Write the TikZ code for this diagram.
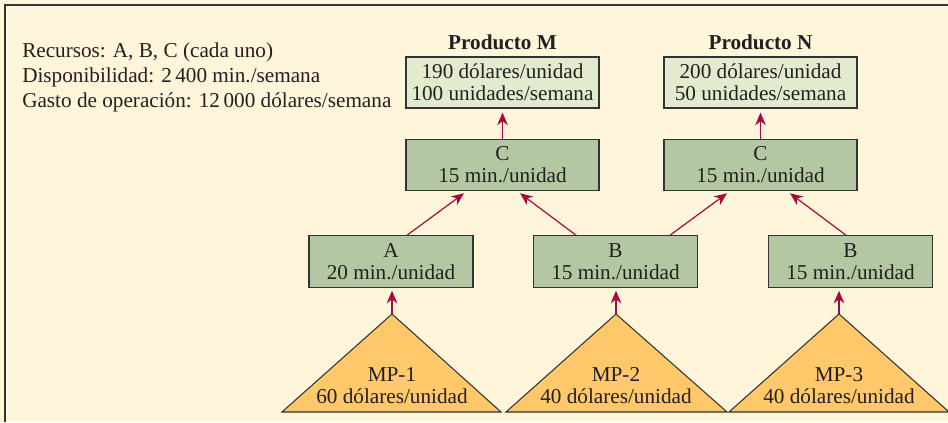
\documentclass[tikz,border=0pt]{standalone}
\usepackage{fontspec}
\setmainfont{Liberation Serif}
\usetikzlibrary{arrows.meta,calc}
\definecolor{bgc}{HTML}{FFF5DA}
\definecolor{prodc}{HTML}{E3EBCF}
\definecolor{procc}{HTML}{B3C8A2}
\definecolor{matc}{HTML}{FFC86B}
\definecolor{arrc}{HTML}{A50A3C}
\definecolor{edgec}{HTML}{333333}
\definecolor{txtc}{HTML}{231F20}
\begin{document}
\begin{tikzpicture}[x=0.75pt,y=-0.75pt,
  txt/.style={font=\fontsize{15.9}{16.5}\selectfont, align=center, text=txtc, inner sep=0pt},
  plain/.style={font=\fontsize{15.9}{18}\selectfont, text=txtc, inner sep=0pt},
  title/.style={font=\fontsize{15.9}{18}\selectfont\bfseries, text=txtc, inner sep=0pt},
  prodbox/.style={txt, draw=edgec, line width=0.9pt, fill=prodc, minimum width=144.75pt, minimum height=38.25pt},
  procbox/.style={txt, draw=edgec, line width=0.9pt, fill=procc, minimum height=38.5pt},
  tri/.style={draw=edgec, line width=0.8pt, fill=matc},
  arr/.style={draw=arrc, line width=0.9pt, -{Stealth[length=9.5pt,width=8pt]}}]
\useasboundingbox (0,0) rectangle (948,422);
\fill[bgc] (0,0) rectangle (948,422);
\draw[edgec, line width=0.9pt] (5,422) -- (5,5) -- (948,5);

% left text
\node[plain, anchor=base west] (l1) at (22,57) {Recursos: A, B, C (cada uno)};
\node[plain, anchor=base west] (l2) at (22,82) {Disponibilidad: 2\,400 min./semana};
\node[plain, anchor=base west] (l3) at (22,107) {Gasto de operación: 12\,000 dólares/semana};

% titles
\node[title, anchor=base] (tM) at (502.5,49.5) {Producto M};
\node[title, anchor=base] (tN) at (760.5,49.5) {Producto N};

% product boxes
\node[prodbox] (PM) at (502.5,82.5) {190 dólares/unidad\\100 unidades/semana};
\node[prodbox] (PN) at (760.5,82.5) {200 dólares/unidad\\50 unidades/semana};

% C boxes
\node[procbox, minimum width=144.75pt] (CM) at (502.5,165) {C\\15 min./unidad};
\node[procbox, minimum width=144.75pt] (CN) at (760.5,165) {C\\15 min./unidad};

% A, B boxes
\node[procbox, minimum width=123pt] (A) at (391,261.5) {A\\20 min./unidad};
\node[procbox, minimum width=123pt] (B1) at (615.5,261.5) {B\\15 min./unidad};
\node[procbox, minimum width=123pt] (B2) at (850.5,261.5) {B\\15 min./unidad};

% triangles
\coordinate (t1) at (392,314);
\coordinate (t2) at (616,314);
\coordinate (t3) at (839,314);
\filldraw[tri] (282,412) -- (t1) -- (501,412) -- cycle;
\filldraw[tri] (506,412) -- (t2) -- (727,412) -- cycle;
\filldraw[tri] (729,412) -- (t3) -- (949,412) -- cycle;
\node[txt] (m1) at (392,386) {MP-1\\60 dólares/unidad};
\node[txt] (m2) at (616,386) {MP-2\\40 dólares/unidad};
\node[txt] (m3) at (839,386) {MP-3\\40 dólares/unidad};

% arrows
\draw[arr] (t1) -- ($(t1 |- A.south)+(0,3)$);
\draw[arr] (t2) -- ($(t2 |- B1.south)+(0,3)$);
\draw[arr] (t3) -- ($(t3 |- B2.south)+(0,3)$);
\draw[arr] ($(A.north)+(16,0)$) -- ($(CM.south)+(-38.5,2)$);
\draw[arr] ($(B1.north)+(-39.5,0)$) -- ($(CM.south)+(17.5,2)$);
\draw[arr] ($(B1.north)+(54.5,0)$) -- ($(CN.south)+(-33.5,2)$);
\draw[arr] ($(B2.north)+(-4.5,0)$) -- ($(CN.south)+(29.5,2)$);
\draw[arr] (CM.north) -- ($(PM.south)+(0,4)$);
\draw[arr] (CN.north) -- ($(PN.south)+(0,4)$);
\end{tikzpicture}
\end{document}
